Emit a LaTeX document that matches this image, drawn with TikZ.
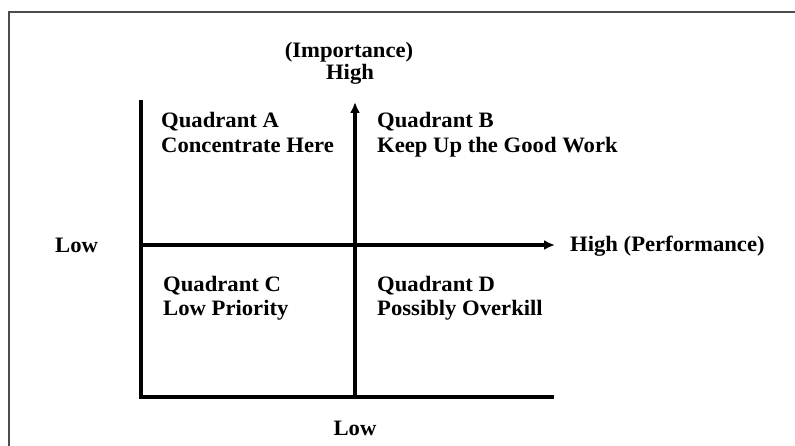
\documentclass[tikz,border=0pt]{standalone}
\usepackage{fontspec}
\setmainfont{Liberation Serif}[FakeStretch=1.03]
\usetikzlibrary{arrows.meta}
\tikzset{
  lbl/.style={inner sep=0pt, font=\bfseries\fontsize{22}{25}\selectfont, text=black},
  axis/.style={line width=3.6pt, draw=black},
  axarrow/.style={axis, -{Latex[length=11pt,width=10pt]}},
  frame/.style={draw=black!70, line width=1.2pt}
}
\begin{document}
\begin{tikzpicture}[x=1pt,y=-1pt]
\useasboundingbox (0,0) rectangle (795,446);
% outer frame (open at right and bottom)
\coordinate (FB) at (9,460);
\coordinate (FC) at (9,12);
\coordinate (FR) at (810,12);
\begin{scope}
\clip (0,0) rectangle (795,446);
\draw[frame] (FB) -- (FC) -- (FR);
\end{scope}
% axes
\coordinate (TL) at (141,100);
\coordinate (O) at (141,397);
\coordinate (BR) at (554,397);
\coordinate (ML) at (141,245);
\coordinate (MR) at (555,245);
\coordinate (MB) at (355,397);
\coordinate (MT) at (355,102);
\draw[axis, line join=miter] (TL) -- (O) -- (BR);
\draw[axarrow] (ML) -- (MR);
\draw[axarrow] (MB) -- (MT);
% labels
\node[lbl, anchor=base] (imp) at (349,58) {(Importance)};
\node[lbl, anchor=base] (hi) at (350,80) {High};
\node[lbl, anchor=base west] (qa1) at (161,128) {Quadrant A};
\node[lbl, anchor=base west] (qa2) at (161,153) {Concentrate Here};
\node[lbl, anchor=base west] (qb1) at (377,128) {Quadrant B};
\node[lbl, anchor=base west] (qb2) at (377,153) {Keep Up the Good Work};
\node[lbl, anchor=base west] (lowl) at (55,253) {Low};
\node[lbl, anchor=base west] (hiperf) at (570,252) {High (Performance)};
\node[lbl, anchor=base west] (qc1) at (163,291) {Quadrant C};
\node[lbl, anchor=base west] (qc2) at (163,316) {Low Priority};
\node[lbl, anchor=base west] (qd1) at (377,291) {Quadrant D};
\node[lbl, anchor=base west] (qd2) at (377,316) {Possibly Overkill};
\node[lbl, anchor=base] (lowb) at (355,435) {Low};
\end{tikzpicture}
\end{document}
